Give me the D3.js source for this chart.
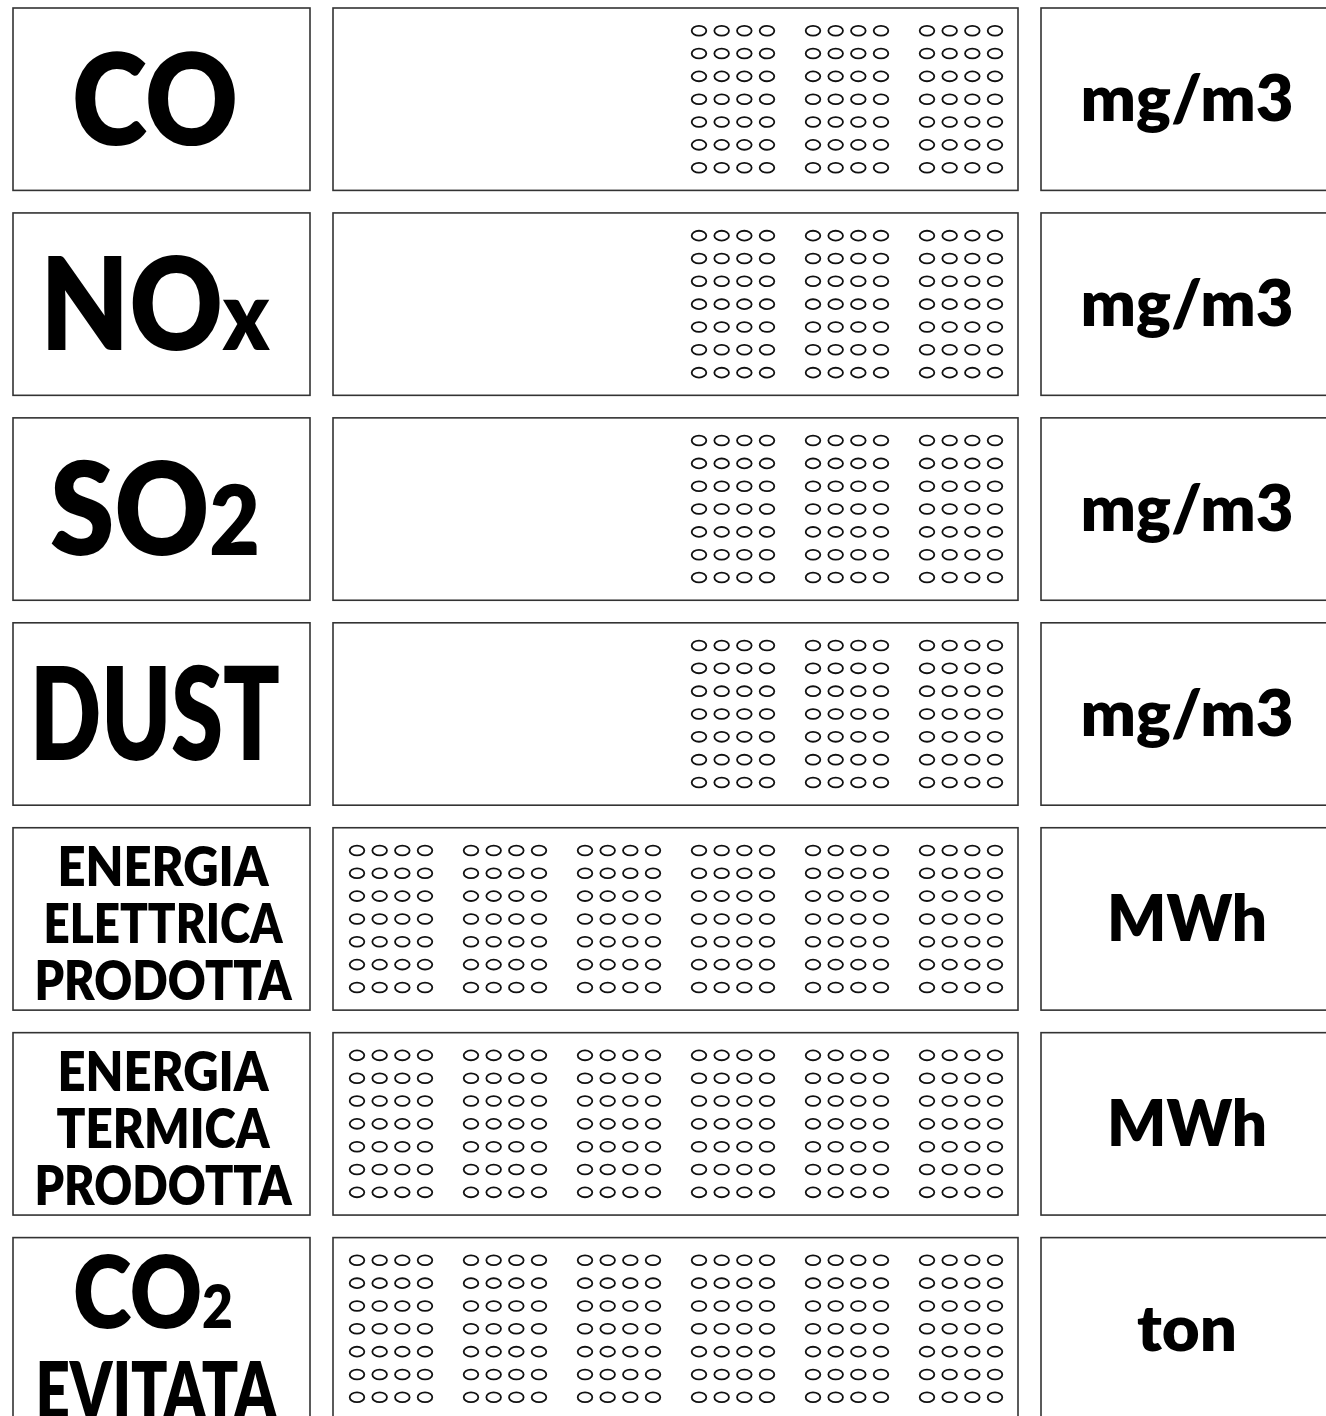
<!DOCTYPE html>
<html>
<head>
<meta charset="utf-8">
<script src="https://cdn.jsdelivr.net/npm/d3@7"></script>
<style>
  html, body { margin: 0; padding: 0; background: #fff; }
  svg { display: block; }
  text { font-family: Lato, "Open Sans", sans-serif; font-weight: 800; fill: #000; }
</style>
</head>
<body>
<div id="chart"></div>
<script>
// rows of the panel: label ("_" marks the small suffix, "\n" a new line)
const labels = ["CO", "NO_x", "SO_2", "DUST",
  "ENERGIA\nELETTRICA\nPRODOTTA", "ENERGIA\nTERMICA\nPRODOTTA", "CO_2\nEVITATA"];
const units = ["mg/m3", "mg/m3", "mg/m3", "mg/m3", "MWh", "MWh", "ton"];
const digitCounts = [3, 3, 3, 3, 6, 6, 6];
const slotCount = 6;            // digit slots in each display
const dotCols = 4, dotRows = 7; // dot matrix of one digit

const width = 1326, height = 1416;

// drawn widths of the words, fitted to the panel's narrow bold face
const fitWidth = {
  "CO": 166, "NOx": 230, "SO2": 210, "DUST": 250,
  "ENERGIA": 212, "ELETTRICA": 240, "TERMICA": 214, "PRODOTTA": 258,
  "CO2": 160, "EVITATA": 242,
  "mg/m3": 213, "MWh": 160, "ton": 100,
};

const svg = d3.select("#chart").append("svg")
  .attr("width", width)
  .attr("height", height);

const rowIdx = d3.range(labels.length);

const y = d3.scaleBand()
  .domain(rowIdx)
  .range([8, 1420])
  .paddingInner(0.11);

// three columns: label box, display box, unit box
const cols = {
  label: { x0: 13, x1: 310 },
  display: { x0: 333, x1: 1018 },
  unit: { x0: 1041, x1: 1336 },
};

const slot = d3.scaleBand()
  .domain(d3.range(slotCount))
  .range([cols.display.x0 + 16.5, cols.display.x1 - 15.5])
  .paddingInner(0.272);

const dotX = d3.scalePoint()
  .domain(d3.range(dotCols))
  .range([7.5, slot.bandwidth() - 7.5]);

const dotY = d3.scalePoint()
  .domain(d3.range(dotRows))
  .range([-68.5, 68.5]);

const rows = svg.selectAll("g.row")
  .data(rowIdx)
  .join("g")
  .attr("class", "row")
  .attr("transform", (i) => `translate(0,${y(i)})`);

const bh = y.bandwidth();

// boxes
Object.entries(cols).forEach(([key, c]) => {
  rows.append("rect")
    .attr("class", `box box-${key}`)
    .attr("x", c.x0)
    .attr("y", 0)
    .attr("width", c.x1 - c.x0)
    .attr("height", bh)
    .attr("fill", "#fff")
    .attr("stroke", "#333")
    .attr("stroke-width", 1.6);
});

// dot matrix digits, right aligned in the display
rows.each(function (i) {
  const g = d3.select(this);
  const slots = d3.range(slotCount - digitCounts[i], slotCount);
  const cells = [];
  slots.forEach((s) => {
    d3.range(dotRows).forEach((r) => {
      d3.range(dotCols).forEach((c) => cells.push({ s, r, c }));
    });
  });
  g.append("g")
    .attr("transform", `translate(0,${bh / 2})`)
    .selectAll("ellipse")
    .data(cells)
    .join("ellipse")
    .attr("cx", (d) => slot(d.s) + dotX(d.c))
    .attr("cy", (d) => dotY(d.r))
    .attr("rx", 7.3)
    .attr("ry", 4.9)
    .attr("fill", "#fff")
    .attr("stroke", "#111")
    .attr("stroke-width", 1.8);
});

// squeeze a text horizontally to the wanted width
function fitText(g, cx, cy, key, build) {
  const holder = g.append("g");
  const t = holder.append("text").attr("text-anchor", "middle");
  build(t);
  const w = t.node().getBBox().width;
  const k = w > 0 ? fitWidth[key] / w : 1;
  holder.attr("transform", `translate(${cx},${cy}) scale(${k},1)`);
  return t;
}

// label text
function lineStyle(nLines, lineNo, hasSmall) {
  if (nLines === 1) return { size: 128, small: hasSmall ? 0.75 : 1, dy: 46, cx: 155 };
  if (nLines === 2) {
    return lineNo === 0
      ? { size: 100, small: 0.6, dy: -1, cx: 153 }
      : { size: 80, small: 1, dy: 90, cx: 156 };
  }
  return { size: 55, small: 1, dy: 24 + (lineNo - 1) * 57, cx: 163 };
}

rows.each(function (i) {
  const g = d3.select(this);
  const lines = labels[i].split("\n");
  lines.forEach((line, k) => {
    const [main, small] = line.split("_");
    const st = lineStyle(lines.length, k, !!small);
    fitText(g, st.cx, bh / 2 + st.dy, main + (small || ""), (t) => {
      t.attr("class", "label").style("font-size", `${st.size}px`);
      t.append("tspan").text(main);
      if (small) {
        t.append("tspan")
          .style("font-size", `${st.size * st.small}px`)
          .text(small);
      }
    });
  });
});

// unit text
rows.each(function (i) {
  fitText(d3.select(this), 1187, bh / 2 + 22, units[i], (t) => {
    t.attr("class", "unit").style("font-size", "64px").text(units[i]);
  });
});
</script>
</body>
</html>
